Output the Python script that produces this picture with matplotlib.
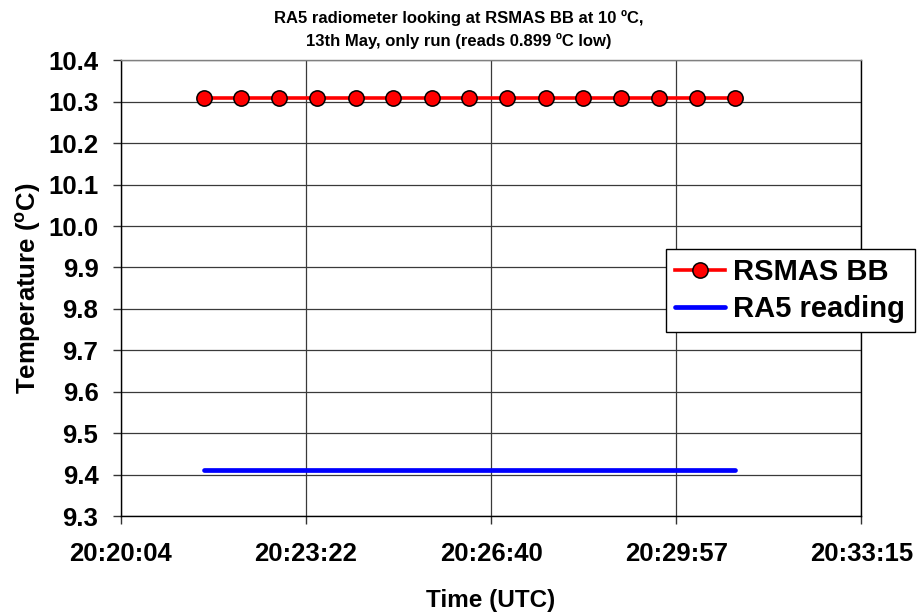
import matplotlib
matplotlib.use("Agg")
import matplotlib.pyplot as plt
import numpy as np

plt.rcParams['font.family'] = ['Liberation Sans', 'DejaVu Sans']
plt.rcParams['font.weight'] = 'bold'
plt.rcParams['mathtext.fontset'] = 'custom'
plt.rcParams['mathtext.rm'] = 'Liberation Sans:bold'
plt.rcParams['mathtext.bf'] = 'Liberation Sans:bold'
plt.rcParams['mathtext.it'] = 'Liberation Sans:bold'

# Data
times = ["20:21:33", "20:22:13", "20:22:53", "20:23:34", "20:24:15",
         "20:24:55", "20:25:36", "20:26:16", "20:26:57", "20:27:38",
         "20:28:18", "20:28:58", "20:29:39", "20:30:20", "20:31:00"]
rsmas_bb = [10.31] * 15
ra5_reading = [9.41] * 15
x_tick_labels = ["20:20:04", "20:23:22", "20:26:40", "20:29:57", "20:33:15"]
y_ticks = [9.3, 9.4, 9.5, 9.6, 9.7, 9.8, 9.9, 10.0, 10.1, 10.2, 10.3, 10.4]


def to_sec(t):
    h, m, s = (int(v) for v in t.split(":"))
    return h * 3600 + m * 60 + s


x = np.array([to_sec(t) for t in times])
x_min, x_max = to_sec(x_tick_labels[0]), to_sec(x_tick_labels[-1])

fig = plt.figure(figsize=(9.17, 6.16), dpi=100)
ax = fig.add_axes([0.1316, 0.1623, 0.8077, 0.7398])

ax.plot(x, ra5_reading, color='#0000FF', lw=3.4, solid_capstyle='round',
        label='RA5 reading', zorder=3)
ax.plot(x, rsmas_bb, color='#FF0000', lw=2.6, marker='o', markersize=11,
        markerfacecolor='#FF0000', markeredgecolor='black', markeredgewidth=1.1,
        label='RSMAS BB', zorder=4)

ax.set_xlim(x_min, x_max)
ax.set_ylim(9.3, 10.4)
ax.set_xticks(np.linspace(x_min, x_max, len(x_tick_labels)))
ax.set_xticklabels(x_tick_labels)
ax.set_yticks(y_ticks)
ax.set_yticklabels([f"{v:.1f}" for v in y_ticks])

ax.grid(True, axis='both', color='#3a3a3a', lw=0.9)
ax.set_axisbelow(True)
for side in ['left', 'bottom', 'right']:
    ax.spines[side].set_color('black')
    ax.spines[side].set_linewidth(1.0)
ax.spines['top'].set_color('#808080')
ax.spines['top'].set_linewidth(1.0)

ax.tick_params(axis='both', direction='out', length=6, width=1, color='#333333',
               labelsize=18.5)
ax.tick_params(axis='y', pad=10)
ax.tick_params(axis='x', pad=13)
for lab in ax.get_xticklabels() + ax.get_yticklabels():
    lab.set_fontweight('bold')

ax.set_xlabel('Time (UTC)', fontsize=17.5, fontweight='bold', labelpad=16)
ax.set_ylabel(r'Temperature ($^{\mathrm{o}}$C)', fontsize=18.5, fontweight='bold', labelpad=4)

fig.text(0.5, 0.971, 'RA5 radiometer looking at RSMAS BB at 10 \u00baC,',
         ha='center', va='center', fontsize=12, fontweight='bold')
fig.text(0.5, 0.933, '13th May, only run (reads 0.899 \u00baC low)',
         ha='center', va='center', fontsize=12, fontweight='bold')

handles, labels = ax.get_legend_handles_labels()
leg = ax.legend(handles[::-1], labels[::-1], loc='upper left',
                bbox_to_anchor=(0.736, 0.586), prop={'size': 21, 'weight': 'bold'},
                frameon=True, fancybox=False, framealpha=1, edgecolor='black',
                handlelength=1.7, handletextpad=0.3, borderpad=0.32, labelspacing=0.3,
                borderaxespad=0)
leg.get_frame().set_linewidth(1.0)

fig.savefig('out.png', dpi=100)
